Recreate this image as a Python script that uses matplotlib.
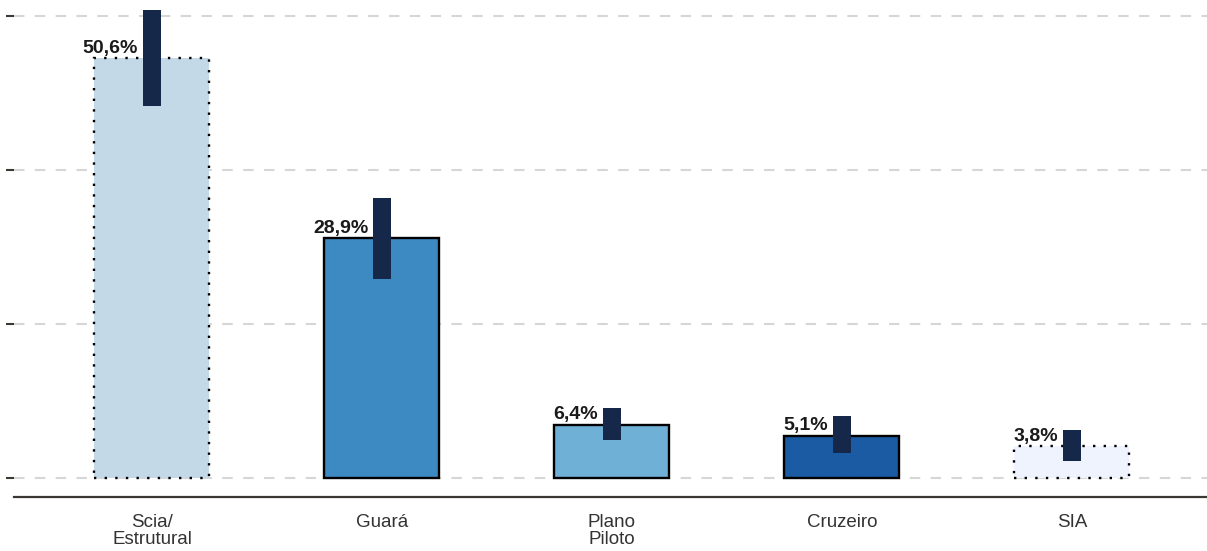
import numpy as np
import matplotlib.pyplot as plt

plt.rcParams['font.family'] = ['Liberation Sans', 'DejaVu Sans']

'''Data read off the chart'''
regioes = ['Scia/\nEstrutural', 'Guará', 'Plano\nPiloto', 'Cruzeiro', 'SIA']
valores = [50.6, 28.9, 6.4, 5.1, 3.8]          # share [%]
ic_inf = [44.9, 24.0, 4.6, 3.0, 2.1]           # lower bound [%]
ic_sup = [56.5, 33.8, 8.4, 7.5, 5.8]           # upper bound [%]
rotulos = ['50,6%', '28,9%', '6,4%', '5,1%', '3,8%']
grade = [0.0, 18.58, 37.16, 55.74]             # gridline positions

'''Styles'''
cores = ['#c3d9e8', '#3d89c2', '#6fb0d7', '#1b5ba3', '#eef3fd']
bordas = [(0, (1, 3.5)), '-', '-', '-', (0, (1, 3.5))]
cor_ic = '#15284a'

fig = plt.figure(figsize=(12.07, 5.51), dpi=100)
ax = fig.add_axes([14/1207, 54/551, 1193/1207, 497/551])

x = np.arange(len(regioes))
for i in range(len(regioes)):
    ax.bar(x[i], valores[i], width=0.5, color=cores[i], edgecolor='black',
           linewidth=1.7, linestyle=bordas[i], zorder=2)
    ax.bar(x[i], ic_sup[i] - ic_inf[i], bottom=ic_inf[i], width=0.078,
           color=cor_ic, zorder=3)
    ax.annotate(rotulos[i], (x[i] - 0.06, valores[i]), xytext=(0, 1),
                textcoords='offset points', ha='right', va='bottom',
                fontsize=14, fontweight='bold', color='#1a1a1a', zorder=4)

ax.set_xlim(-0.6, 4.587)
ax.set_ylim(-2.3, 57.65)
ax.set_yticks(grade)
ax.set_yticklabels([])
ax.yaxis.grid(True, linestyle=(0, (5, 5)), color='#d6d6d6', linewidth=1.5, zorder=0)
ax.tick_params(axis='y', length=6, width=1.5, color='#3b3833')
ax.set_xticks(x)
ax.set_xticklabels(regioes, fontsize=13.5, color='#333333', linespacing=1.0)
ax.tick_params(axis='x', length=0, pad=12)

for s in ['top', 'right', 'left']:
    ax.spines[s].set_visible(False)
ax.spines['bottom'].set_color('#3b3833')
ax.spines['bottom'].set_linewidth(1.6)

plt.savefig('out.png', dpi=100)
